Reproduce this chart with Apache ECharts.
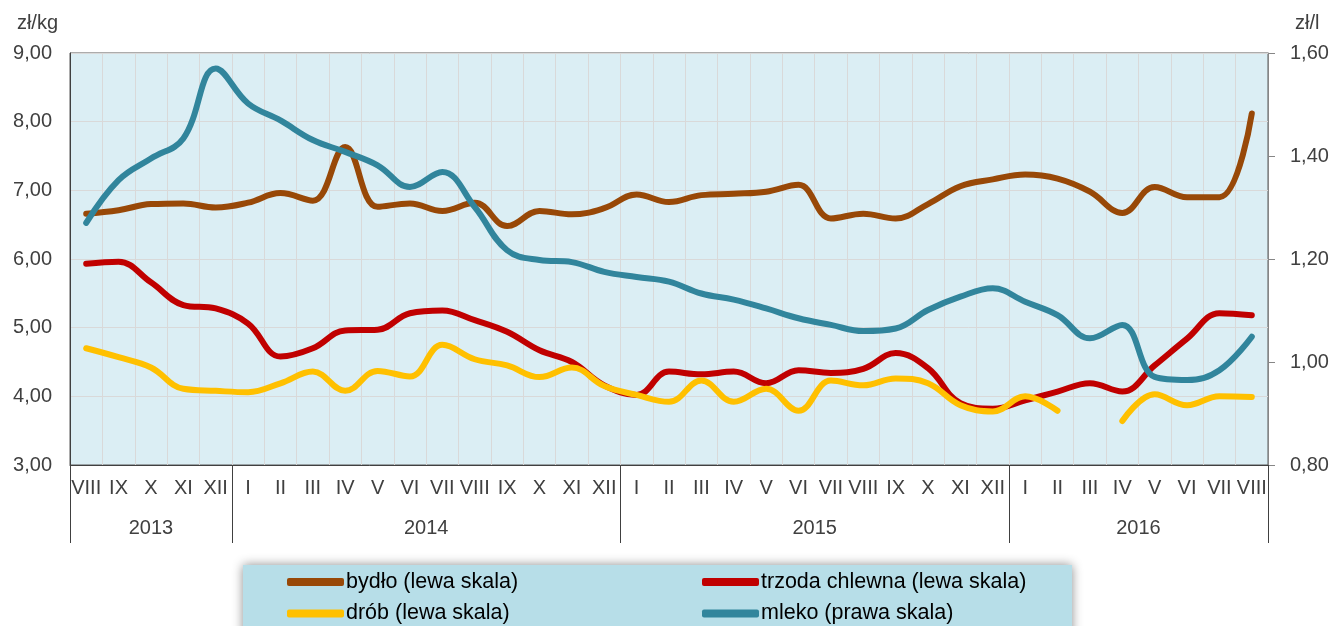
<!DOCTYPE html>
<html>
<head>
<meta charset="utf-8">
<script src="https://cdn.jsdelivr.net/npm/echarts@6/dist/echarts.min.js"></script>
<style>
  html, body { margin: 0; padding: 0; background: #fff; }
  #chart { width: 1332px; height: 626px; }
</style>
</head>
<body>
<div id="chart"></div>
<script>
// miesiace VIII 2013 - VIII 2016
var months = ['VIII','IX','X','XI','XII',
  'I','II','III','IV','V','VI','VII','VIII','IX','X','XI','XII',
  'I','II','III','IV','V','VI','VII','VIII','IX','X','XI','XII',
  'I','II','III','IV','V','VI','VII','VIII'];
var years = ['2013', '2014', '2015', '2016'];
var yearBounds = [0, 5, 17, 29, 37];
var yearCenters = [2.5, 11, 23, 33];

// zl/kg (lewa skala)
var bydlo = [6.66,6.71,6.80,6.81,6.75,6.82,6.96,6.85,7.63,6.76,6.81,6.70,6.82,6.48,6.70,6.65,6.74,
  6.94,6.83,6.93,6.95,6.98,7.08,6.59,6.66,6.59,6.80,7.06,7.16,
  7.23,7.17,6.98,6.67,7.05,6.90,6.90,8.12];
var trzoda = [5.93,5.96,5.66,5.33,5.28,5.06,4.58,4.70,4.96,4.97,5.21,5.25,5.11,4.94,4.67,4.50,4.16,
  4.02,4.36,4.32,4.36,4.19,4.38,4.34,4.40,4.63,4.41,3.90,3.82,
  3.94,4.07,4.19,4.07,4.45,4.84,5.21,5.18];
var drob = [4.70,4.57,4.42,4.11,4.08,4.06,4.19,4.36,4.08,4.37,4.29,4.75,4.54,4.45,4.28,4.42,4.15,
  4.02,3.92,4.23,3.92,4.11,3.79,4.23,4.16,4.26,4.19,3.87,3.78,
  4.00,3.79,null,3.64,4.03,3.87,4.00,3.99];
// zl/l (prawa skala)
var mleko = [1.270,1.353,1.395,1.434,1.570,1.502,1.469,1.431,1.408,1.382,1.340,1.369,1.301,1.217,1.198,1.194,1.175,
  1.165,1.156,1.133,1.121,1.104,1.085,1.072,1.060,1.065,1.101,1.127,1.143,
  1.117,1.091,1.046,1.072,0.971,0.965,0.984,1.049];

var FONT = 'Liberation Sans, Arial, sans-serif';
var TXT = '#404040';

function comma(v) { return v.toFixed(2).replace('.', ','); }

function line(name, data, color, axis) {
  return {
    name: name, type: 'line', data: data, yAxisIndex: axis,
    smooth: 0.4, showSymbol: false, symbol: 'none',
    color: color,
    lineStyle: { color: color, width: 6, cap: 'round', join: 'round' },
    itemStyle: { color: color }
  };
}

function legendCol(left, names) {
  return {
    left: left, top: 571, height: 55, padding: 0, orient: 'vertical', itemGap: 9.5,
    icon: 'roundRect', itemWidth: 57, itemHeight: 8,
    textStyle: { fontSize: 21.5, color: '#000', fontFamily: FONT, padding: [0, 0, 0, -3] },
    data: names
  };
}

var chart = echarts.init(document.getElementById('chart'));
chart.setOption({
  animation: false,
  textStyle: { fontFamily: FONT },
  grid: {
    left: 70, right: 64, top: 53, bottom: 161,
    show: true, backgroundColor: '#DBEEF4', borderColor: '#595959', borderWidth: 1
  },
  graphic: [{
    type: 'rect', left: 243, top: 565, z: 0,
    shape: { width: 829, height: 80 },
    style: { fill: '#B7DEE8', shadowBlur: 10, shadowColor: 'rgba(0,0,0,0.45)' }
  }],
  legend: [
    legendCol(287, ['bydło (lewa skala)', 'drób (lewa skala)']),
    legendCol(702, ['trzoda chlewna (lewa skala)', 'mleko (prawa skala)'])
  ],
  xAxis: [{
    type: 'category', position: 'bottom', data: months,
    axisLine: { lineStyle: { color: '#404040' } },
    axisTick: { interval: 0, length: 40, lineStyle: { color: '#404040' } },
    axisLabel: { interval: 0, fontSize: 20, color: TXT, margin: 13 },
    splitLine: { show: true, interval: 0, lineStyle: { color: '#D9D9D9' } }
  }, {
    type: 'value', position: 'bottom', min: 0, max: 37,
    axisLine: { show: false },
    splitLine: { show: false },
    axisTick: { customValues: yearBounds, length: 78, lineStyle: { color: '#404040' } },
    axisLabel: {
      customValues: yearCenters, fontSize: 20, color: TXT, margin: 53,
      formatter: function (v) {
        var i = yearCenters.indexOf(v);
        return i >= 0 ? years[i] : '';
      }
    }
  }],
  yAxis: [{
    type: 'value', min: 3, max: 9, interval: 1, position: 'left',
    name: 'zł/kg', nameLocation: 'end', nameGap: 20,
    nameTextStyle: { fontSize: 20, color: TXT, align: 'right', padding: [0, 12, 0, 0] },
    axisLine: { show: true, lineStyle: { color: '#404040' } },
    axisTick: { show: false },
    axisLabel: { fontSize: 20, color: TXT, margin: 18, formatter: comma },
    splitLine: { show: true, lineStyle: { color: '#D9D9D9' } }
  }, {
    type: 'value', min: 0.8, max: 1.6, interval: 0.2, position: 'right',
    name: 'zł/l', nameLocation: 'end', nameGap: 20,
    nameTextStyle: { fontSize: 20, color: TXT, align: 'left', padding: [0, 0, 0, 27] },
    axisLine: { show: true, lineStyle: { color: '#868686' } },
    axisTick: { show: true, length: 7, lineStyle: { color: '#868686' } },
    axisLabel: { fontSize: 20, color: TXT, margin: 22, formatter: comma },
    splitLine: { show: false }
  }],
  series: [
    line('bydło (lewa skala)', bydlo, '#984807', 0),
    line('trzoda chlewna (lewa skala)', trzoda, '#C00000', 0),
    line('drób (lewa skala)', drob, '#FFC000', 0),
    line('mleko (prawa skala)', mleko, '#31859C', 1)
  ]
});
</script>
</body>
</html>
